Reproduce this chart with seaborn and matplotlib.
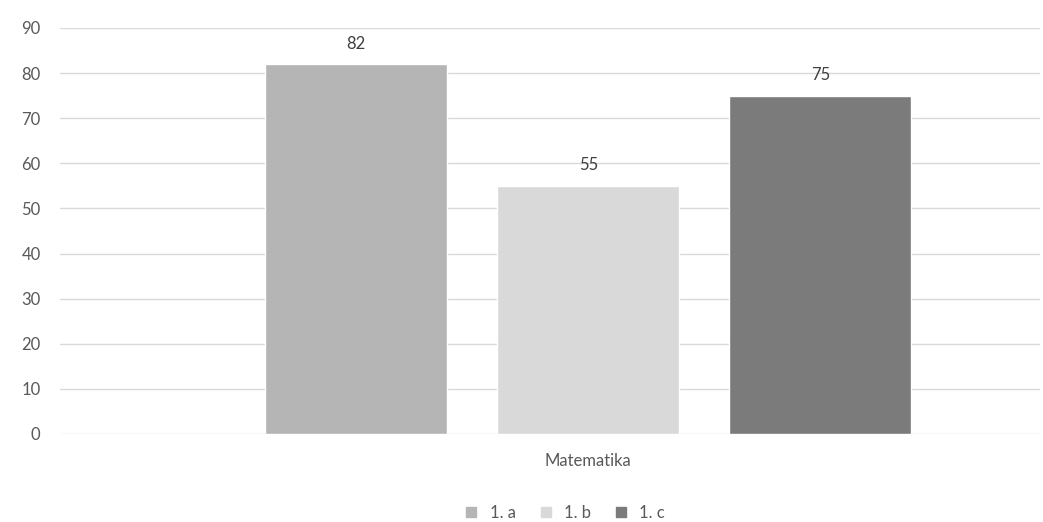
import pandas as pd
import seaborn as sns
import matplotlib.pyplot as plt
from matplotlib.lines import Line2D

# values
subjects = ["Matematika", "Matematika", "Matematika"]
classes = ["1. a", "1. b", "1. c"]
scores = [82, 55, 75]
barColours = ["#b5b5b5", "#d9d9d9", "#7b7b7b"]
yTicks = list(range(0, 100, 10))

df = pd.DataFrame({"subject": subjects, "class": classes, "score": scores})

sns.set_theme(style="white")
plt.rcParams['font.family'] = ['Lato', 'DejaVu Sans']

fig = plt.figure(figsize=(10.43, 5.22), dpi=100)
ax = fig.add_axes([60/1043, 1 - 434/522, 980/1043, 406/522])

sns.barplot(data=df, x="subject", y="score", hue="class", palette=barColours,
            width=0.8, gap=0.215, ax=ax, legend=False, saturation=1)

# data labels above bars
for cont in ax.containers:
  ax.bar_label(cont, padding=9, fontsize=12, color="#404040")

ax.set_ylim(0, 90)
ax.set_yticks(yTicks)
ax.set_xlim(-0.607, 0.519)
ax.yaxis.grid(True, color="#d9d9d9", linewidth=1)
ax.set_axisbelow(True)
for s in ax.spines.values():
  s.set_visible(False)
ax.set_xlabel("")
ax.set_ylabel("")
ax.tick_params(axis="y", labelsize=12, labelcolor="#595959", pad=14, length=0)
ax.tick_params(axis="x", labelsize=12, labelcolor="#595959", pad=14, length=0)

handles = [Line2D([], [], marker="s", linestyle="", markersize=7, color=c) for c in barColours]
fig.legend(handles, classes, loc="center", bbox_to_anchor=(560/1043, 1 - 513/522),
           ncol=3, frameon=False, fontsize=12, handletextpad=0.1, columnspacing=0.8,
           labelcolor="#595959")

fig.savefig("out.png", dpi=100)
